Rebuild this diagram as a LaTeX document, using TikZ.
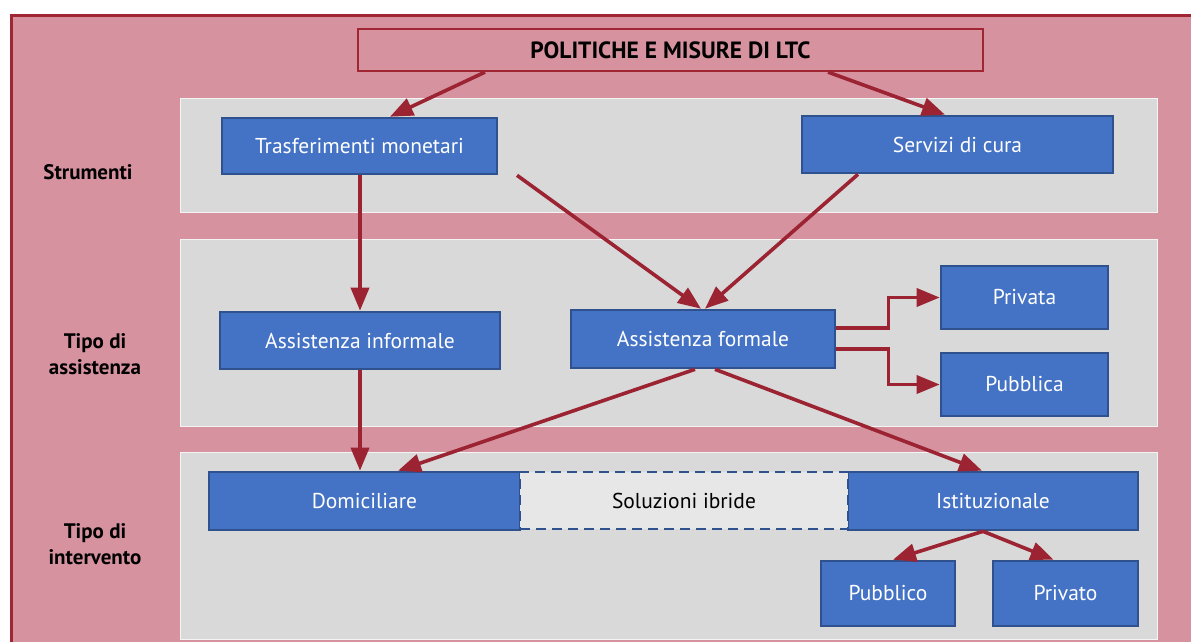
\documentclass[tikz,border=0pt]{standalone}
\usepackage{fontspec}
\setmainfont{PT Sans}
\usetikzlibrary{arrows.meta,calc}
\definecolor{pinkbg}{RGB}{215,146,160}
\definecolor{framecol}{RGB}{160,38,52}
\definecolor{arrowcol}{RGB}{155,35,50}
\definecolor{bandgray}{RGB}{217,217,217}
\definecolor{boxblue}{RGB}{68,114,196}
\definecolor{boxborder}{RGB}{47,82,143}
\definecolor{hybridfill}{RGB}{231,231,231}
\tikzset{
  bluebox/.style={draw=boxborder, fill=boxblue, line width=2.6pt, text=white, font=\fontsize{21.5}{25}\selectfont, inner sep=0pt},
  hybridbox/.style={draw=boxborder, fill=hybridfill, dashed, dash pattern=on 10pt off 6pt, line width=2.6pt, text=black, font=\fontsize{21.5}{25}\selectfont, inner sep=0pt},
  band/.style={fill=bandgray, draw=white!70!bandgray, line width=1pt},
  sidelabel/.style={font=\bfseries\fontsize{21}{26}\selectfont, align=center, text=black},
  conn/.style={draw=arrowcol, line width=3.6pt, -{Triangle[length=23pt,width=18pt]}},
}
\begin{document}
\begin{tikzpicture}[x=1pt,y=-1pt]
\useasboundingbox (0,0) rectangle (1191,641);
\fill[white] (0,0) rectangle (1191,641);
\begin{scope}
\clip (0,0) rectangle (1191,641);
\draw[framecol, fill=pinkbg, line width=3pt] (11,15) rectangle (1220,680);
\end{scope}
% bands
\draw[band] (180,98) rectangle (1157,212);
\draw[band] (180,239) rectangle (1157,426);
\draw[band] (180,452) rectangle (1157,639);
% side labels
\node[sidelabel] (l1) at (88,172) {Strumenti};
\node[sidelabel] (l2) at (95,354) {Tipo di\\assistenza};
\node[sidelabel] (l3) at (95,544) {Tipo di\\intervento};
% title
\node[draw=framecol, line width=2.2pt, fill=pinkbg, minimum width=625pt, minimum height=42pt, inner sep=0pt, font=\bfseries\fontsize{23.5}{27}\selectfont] (title) at (670.5,50) {POLITICHE E MISURE DI LTC};
% boxes
\node[bluebox, minimum width=275pt, minimum height=56pt] (tm) at (359.5,146) {Trasferimenti monetari};
\node[bluebox, minimum width=311pt, minimum height=57pt] (sc) at (957.5,144.5) {Servizi di cura};
\node[bluebox, minimum width=280pt, minimum height=57pt] (ai) at (360,340.5) {Assistenza informale};
\node[bluebox, minimum width=264pt, minimum height=58pt] (af) at (703,339) {Assistenza formale};
\node[bluebox, minimum width=167pt, minimum height=63pt] (pa) at (1024.5,297.5) {Privata};
\node[bluebox, minimum width=167pt, minimum height=63pt] (pb) at (1024.5,384.5) {Pubblica};
\node[bluebox, minimum width=311pt, minimum height=58pt] (dom) at (364.5,501) {Domiciliare};
\node[bluebox, minimum width=290pt, minimum height=58pt] (ist) at (993,501) {Istituzionale};
\node[hybridbox, minimum width=328pt, minimum height=57pt] (ibr) at (684,500.5) {Soluzioni ibride};
\node[bluebox, minimum width=134pt, minimum height=65pt] (pubo) at (888,593.5) {Pubblico};
\node[bluebox, minimum width=145pt, minimum height=65pt] (priv) at (1065.5,593.5) {Privato};
% connectors
\draw[conn] ([xshift=-185.5pt]title.south) -- ([xshift=30.5pt]tm.north);
\draw[conn] ([xshift=157.5pt]title.south) -- ([xshift=-12.5pt]sc.north);
\draw[conn] (ai.north |- tm.south) -- (ai.north);
\draw[conn] ([xshift=157.5pt]tm.south) -- ([xshift=-2pt]af.north);
\draw[conn] ([xshift=-99.5pt]sc.south) -- ([xshift=2pt]af.north);
\draw[conn] (ai.south) -- (ai.south |- dom.north);
\draw[conn] ([xshift=-8pt]af.south) -- ([xshift=33.5pt]dom.north);
\draw[conn] ([xshift=12pt]af.south) -- ([xshift=-11pt]ist.north);
\draw[conn] ([yshift=11pt]af.east) -- ++(52,0) |- (pa.west);
\draw[conn] ([yshift=-10pt]af.east) -- ++(52,0) |- (pb.west);
\draw[conn] ([xshift=-10pt]ist.south) -- ([xshift=5pt]pubo.north);
\draw[conn] ([xshift=-10pt]ist.south) -- ([xshift=-12pt]priv.north);
\end{tikzpicture}
\end{document}
